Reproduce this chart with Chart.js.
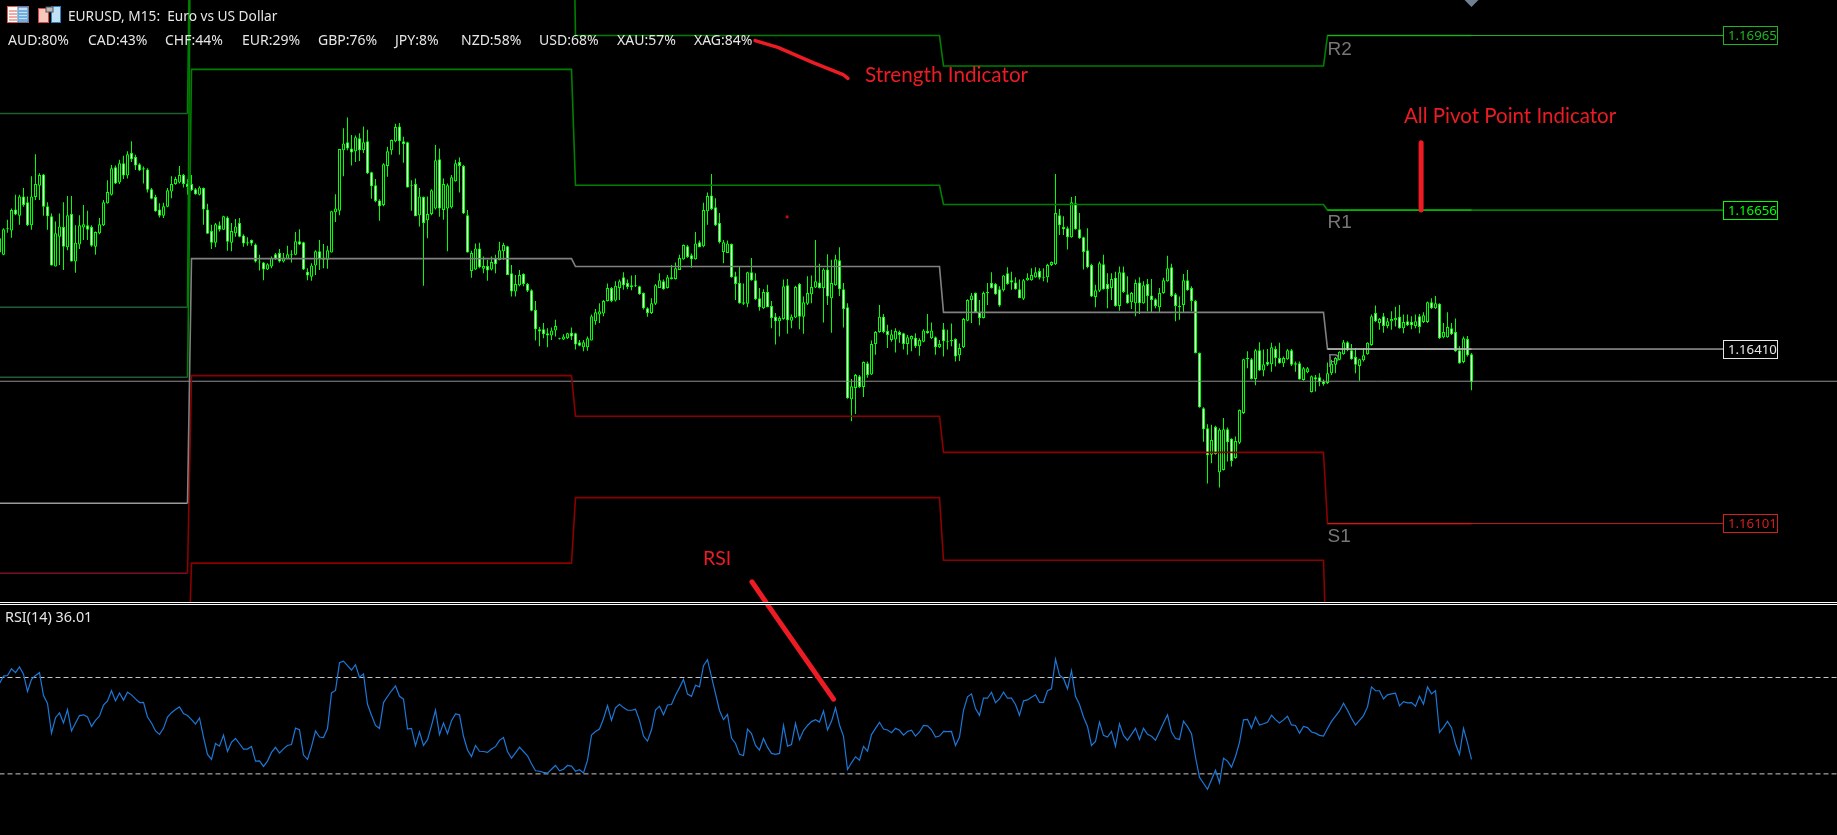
<!DOCTYPE html>
<html><head><meta charset="utf-8">
<style>
html,body{margin:0;padding:0;background:#000;width:1837px;height:835px;overflow:hidden}
canvas{position:absolute;left:0;display:block}
.sep{position:absolute;left:0;width:1837px;height:1px;background:#fff}
.t{position:absolute;white-space:pre;color:#e6e6e6;font:13.7px "Noto Sans",sans-serif;line-height:16px}
.r{position:absolute;white-space:pre;color:#ed1c24;font:20.5px Lato,sans-serif;line-height:24px}
svg{position:absolute}
</style></head><body>
<canvas id="main" width="1837" height="602" style="top:0"></canvas>
<div class="sep" style="top:602px"></div><div class="sep" style="top:604px"></div>
<canvas id="rsi" width="1837" height="230" style="top:605px"></canvas>
<svg style="left:7px;top:6px" width="22" height="17"><rect x=".5" y=".5" width="21" height="16" fill="#fff" stroke="#e05a50"/><rect x="11" y="1" width="10" height="15" fill="#bfe0f5" stroke="#2a7fc0" stroke-width="1"/><path d="M2 5h8M2 8h8M2 11h8M2 14h8" stroke="#e05a50"/><path d="M12 5h8M12 8h8M12 11h8M12 14h8" stroke="#2a7fc0"/></svg>
<svg style="left:38px;top:6px" width="23" height="17"><rect x=".5" y="2.5" width="10" height="14" fill="#f7c7bd" stroke="#d9483b"/><rect x="13.5" y=".5" width="9" height="16" fill="#bfe0f5" stroke="#2a7fc0"/><rect x="8" y="1" width="7" height="5" fill="#b8b8b8" stroke="#555"/></svg>
<script src="https://cdn.jsdelivr.net/npm/chart.js@4/dist/chart.umd.min.js"></script>
<script>
// Prices are in points (1 point = 0.00001)
const highs=[116615,116624,116639,116659,116683,116683,116695,116680,116716,116755,116721,116720,116670,116650,116636,116650,116670,116681,116681,116629,
116647,116665,116655,116629,116618,116642,116674,116709,116736,116735,116745,116752,116760,116778,116754,116739,116733,116730,116695,116683,
116668,116669,116695,116716,116715,116734,116720,116711,116718,116695,116698,116696,116667,116630,116633,116636,116646,116645,116633,116640,
116642,116613,116608,116604,116597,116577,116564,116562,116574,116580,116587,116580,116593,116585,116617,116622,116600,116553,116562,116585,
116603,116596,116593,116655,116684,116764,116801,116820,116789,116788,116792,116804,116798,116724,116711,116675,116739,116768,116781,116809,
116810,116786,116777,116709,116712,116695,116680,116680,116693,116771,116765,116712,116703,116718,116745,116749,116736,116656,116584,116597,
116598,116574,116568,116574,116577,116600,116598,116593,116559,116541,116550,116544,116527,116516,116495,116449,116456,116447,116448,116462,
116430,116436,116439,116448,116439,116426,116426,116432,116471,116481,116491,116497,116526,116520,116530,116533,116546,116533,116540,116541,
116522,116510,116484,116500,116525,116544,116533,116541,116559,116563,116577,116595,116594,116579,116617,116602,116669,116687,116720,116677,
116651,116603,116602,116597,116547,116556,116526,116547,116571,116544,116518,116516,116524,116495,116474,116468,116533,116534,116471,116522,
116527,116503,116539,116540,116603,116561,116553,116578,116568,116577,116590,116527,116491,116357,116366,116364,116388,116388,116425,116442,
116488,116472,116453,116444,116447,116443,116439,116435,116434,116438,116429,116445,116472,116457,116432,116426,116456,116444,116455,116429,
116420,116465,116498,116509,116510,116497,116512,116527,116546,116527,116521,116541,116555,116547,116537,116533,116534,116544,116553,116555,
116553,116553,116561,116565,116720,116658,116645,116627,116679,116681,116651,116609,116624,116561,116524,116565,116577,116544,116544,116547,
116556,116556,116539,116511,116533,116537,116530,116534,116534,116500,116518,116536,116575,116561,116509,116503,116543,116550,116521,116497,
116404,116307,116277,116276,116274,116270,116288,116271,116252,116255,116303,116393,116406,116394,116410,116422,116409,116410,116421,116415,
116421,116397,116410,116410,116388,116388,116378,116378,116363,116364,116367,116356,116386,116391,116396,116406,116426,116424,116419,116412,
116393,116412,116422,116471,116487,116465,116474,116465,116477,116485,116488,116471,116471,116468,116471,116472,116475,116494,116500,116504,
116491,116456,116475,116456,116464,116415,116432,116433,116403];
const lows=[116574,116576,116616,116607,116647,116630,116662,116628,116621,116674,116674,116646,116621,116558,116556,116559,116550,116585,116565,116545,
116587,116603,116603,116591,116577,116613,116628,116667,116682,116702,116702,116711,116712,116741,116727,116725,116703,116687,116675,116653,
116643,116642,116661,116677,116701,116703,116696,116683,116690,116683,116682,116630,116614,116587,116590,116618,116621,116584,116583,116609,
116608,116591,116593,116593,116563,116549,116532,116550,116553,116568,116563,116563,116569,116563,116576,116594,116550,116532,116531,116541,
116550,116553,116552,116581,116635,116647,116716,116762,116735,116741,116743,116757,116720,116676,116670,116637,116663,116715,116754,116776,
116754,116740,116696,116655,116645,116627,116522,116606,116647,116657,116644,116639,116583,116659,116706,116687,116649,116581,116536,116550,
116553,116544,116531,116549,116544,116567,116568,116541,116503,116503,116521,116521,116511,116477,116425,116415,116429,116413,116426,116432,
116427,116426,116428,116426,116409,116415,116406,116407,116425,116453,116456,116468,116494,116493,116494,116497,116515,116516,116514,116520,
116506,116480,116467,116472,116488,116518,116515,116517,116533,116533,116550,116568,116571,116554,116568,116590,116590,116630,116656,116628,
116597,116562,116580,116536,116497,116490,116488,116484,116531,116497,116478,116481,116484,116447,116418,116432,116462,116437,116447,116465,
116445,116437,116488,116491,116518,116517,116457,116488,116439,116522,116504,116448,116322,116282,116295,116341,116325,116359,116364,116400,
116439,116438,116412,116423,116404,116421,116409,116400,116406,116412,116398,116422,116437,116428,116400,116412,116397,116409,116415,116388,
116389,116412,116459,116456,116474,116452,116464,116488,116517,116506,116485,116512,116524,116515,116515,116500,116497,116531,116531,116536,
116533,116530,116528,116557,116559,116612,116612,116586,116607,116621,116605,116551,116553,116502,116484,116511,116515,116482,116497,116485,
116478,116509,116490,116481,116468,116472,116490,116477,116474,116482,116475,116508,116529,116502,116459,116462,116475,116513,116477,116402,
116306,116246,116172,116208,116223,116165,116195,116211,116202,116216,116242,116295,116376,116356,116346,116371,116362,116380,116370,116379,
116384,116378,116391,116380,116370,116356,116354,116367,116333,116335,116344,116345,116348,116364,116367,116390,116400,116406,116391,116367,
116354,116388,116400,116416,116458,116444,116439,116447,116444,116450,116446,116438,116451,116445,116447,116438,116456,116456,116481,116481,
116428,116429,116430,116435,116405,116384,116385,116397,116337];
const opens=[116606,116577,116624,116620,116657,116646,116680,116670,116629,116679,116699,116719,116663,116645,116556,116609,116626,116590,116649,116565,
116595,116625,116629,116626,116591,116615,116629,116668,116683,116732,116705,116739,116717,116757,116750,116737,116730,116728,116693,116679,
116657,116646,116662,116689,116702,116705,116718,116703,116702,116693,116683,116695,116657,116619,116598,116629,116621,116643,116598,116615,
116633,116611,116599,116603,116595,116565,116563,116551,116556,116578,116580,116565,116570,116578,116577,116601,116599,116547,116538,116558,
116583,116572,116568,116581,116652,116655,116762,116776,116765,116760,116783,116762,116778,116723,116700,116673,116665,116734,116762,116778,
116804,116778,116776,116700,116702,116647,116679,116638,116649,116659,116746,116656,116659,116661,116707,116741,116734,116647,116548,116551,
116588,116552,116557,116551,116571,116567,116583,116592,116544,116512,116523,116543,116525,116514,116479,116445,116445,116438,116434,116443,
116429,116427,116429,116439,116438,116422,116413,116413,116425,116459,116471,116473,116495,116518,116496,116518,116537,116527,116523,116523,
116521,116509,116482,116474,116490,116518,116530,116518,116534,116534,116550,116569,116592,116576,116569,116599,116592,116654,116682,116661,
116633,116582,116580,116596,116539,116527,116493,116490,116546,116532,116500,116482,116511,116486,116467,116459,116463,116523,116460,116466,
116525,116467,116490,116507,116519,116528,116518,116551,116500,116523,116567,116516,116484,116321,116341,116362,116343,116385,116365,116419,
116440,116467,116442,116426,116427,116440,116438,116419,116427,116430,116415,116423,116442,116429,116431,116413,116445,116424,116426,116428,
116399,116413,116460,116497,116509,116475,116465,116511,116527,116525,116516,116514,116544,116532,116528,116516,116499,116532,116532,116537,
116548,116538,116537,116559,116560,116647,116626,116624,116608,116668,116622,116608,116585,116559,116502,116513,116560,116525,116518,116536,
116486,116546,116507,116493,116491,116528,116491,116525,116505,116498,116484,116509,116530,116555,116507,116486,116488,116532,116518,116495,
116403,116305,116270,116223,116272,116192,116196,116268,116251,116217,116244,116297,116394,116392,116357,116408,116372,116387,116383,116410,
116394,116385,116392,116408,116385,116385,116355,116369,116334,116360,116360,116353,116350,116367,116382,116391,116401,116422,116408,116396,
116380,116390,116401,116417,116474,116456,116468,116451,116459,116461,116467,116447,116459,116458,116451,116468,116458,116458,116493,116482,
116490,116431,116431,116447,116440,116408,116387,116428,116401];
const closes=[116581,116622,116622,116656,116648,116680,116665,116629,116680,116702,116718,116662,116645,116558,116615,116627,116591,116647,116565,116598,
116629,116631,116621,116593,116617,116631,116670,116688,116730,116703,116739,116717,116755,116746,116735,116726,116728,116692,116676,116654,
116646,116663,116691,116702,116711,116718,116702,116697,116691,116684,116696,116657,116614,116598,116631,116621,116645,116600,116619,116627,
116609,116597,116597,116597,116565,116563,116551,116560,116571,116570,116565,116572,116578,116576,116601,116595,116551,116540,116558,116583,
116570,116568,116585,116654,116659,116764,116774,116765,116758,116785,116762,116776,116721,116698,116672,116663,116737,116760,116780,116803,
116778,116773,116696,116698,116645,116680,116633,116649,116691,116744,116659,116702,116700,116714,116739,116734,116650,116581,116580,116588,
116555,116557,116549,116564,116560,116585,116594,116541,116512,116525,116541,116525,116513,116478,116445,116441,116436,116434,116443,116451,
116428,116432,116438,116432,116418,116416,116422,116429,116468,116475,116477,116495,116518,116495,116522,116530,116523,116520,116520,116521,
116507,116482,116474,116491,116523,116532,116516,116537,116537,116553,116571,116594,116573,116569,116597,116590,116656,116681,116658,116629,
116599,116599,116597,116537,116525,116491,116490,116546,116532,116498,116484,116511,116484,116465,116459,116465,116521,116461,116467,116520,
116467,116493,116509,116520,116530,116518,116551,116503,116527,116569,116516,116481,116323,116344,116364,116343,116387,116364,116419,116440,
116467,116440,116435,116436,116442,116435,116419,116431,116433,116415,116426,116443,116438,116443,116413,116419,116424,116422,116424,116397,
116412,116463,116497,116505,116475,116465,116509,116509,116518,116507,116487,116540,116525,116528,116516,116500,116532,116536,116541,116546,
116536,116536,116559,116564,116651,116629,116622,116608,116670,116622,116606,116582,116555,116503,116514,116562,116516,116516,116534,116486,
116546,116511,116491,116509,116527,116491,116523,116504,116497,116486,116509,116532,116553,116504,116486,116484,116532,116514,116495,116403,
116307,116268,116222,116249,116224,116267,116268,116245,116212,116247,116302,116392,116392,116357,116408,116372,116383,116382,116413,116394,
116385,116394,116408,116382,116382,116356,116376,116376,116362,116356,116351,116348,116367,116384,116394,116405,116422,116408,116392,116382,
116392,116399,116421,116468,116459,116463,116451,116459,116463,116465,116447,116458,116452,116452,116459,116449,116470,116493,116482,116491,
116429,116440,116449,116436,116406,116385,116429,116399,116351];
const rsiValues=[67.5,70.6,70.8,73.6,72.0,74.4,71.4,64.2,69.2,70.8,72.0,62.5,59.2,46.9,53.3,55.3,51.1,56.7,47.8,51.1,
54.2,54.5,53.6,49.7,52.2,54.0,58.6,60.3,64.5,60.3,63.6,60.6,63.9,62.8,61.1,59.6,59.7,53.6,51.1,47.8,
46.4,48.9,53.6,55.4,56.7,57.8,55.0,54.2,52.5,50.7,53.2,45.3,38.1,36.0,42.6,41.5,46.1,39.3,43.1,44.7,
42.5,40.3,40.3,41.4,35.3,35.4,33.1,35.3,38.9,41.0,38.6,40.4,41.8,42.2,49.0,48.3,37.8,36.0,41.3,47.8,
45.3,45.1,48.8,63.6,64.6,76.1,76.8,74.9,73.1,75.3,70.0,71.5,58.9,54.3,50.1,48.9,59.6,62.1,64.5,66.5,
62.2,61.0,48.6,48.9,41.7,47.4,41.8,44.2,50.0,56.4,46.3,51.1,46.7,52.1,54.9,54.5,45.6,39.9,37.2,41.8,
39.4,39.3,38.9,40.3,41.3,43.9,45.1,39.3,36.5,38.7,41.1,39.3,37.5,34.2,31.3,31.1,30.6,30.3,31.9,33.5,
31.3,31.9,33.5,33.2,31.1,31.7,30.4,35.6,46.1,47.6,48.6,52.9,58.3,52.2,57.4,58.9,57.5,56.4,56.4,56.8,
52.2,45.7,43.6,48.3,56.5,58.1,54.5,58.6,58.8,62.6,65.8,69.2,63.1,62.2,66.8,66.1,74.9,77.4,70.3,63.3,
56.3,52.5,54.7,44.9,42.6,38.1,37.6,48.6,46.7,41.8,39.9,44.7,41.1,38.5,38.1,38.5,50.1,41.5,42.2,51.0,
44.2,48.0,50.1,51.7,52.5,51.5,56.1,48.3,51.8,57.4,50.3,45.6,31.8,34.6,37.1,35.7,41.4,39.4,46.3,48.9,
51.4,48.6,48.2,47.1,48.9,48.1,46.1,47.6,48.1,45.7,47.4,50.1,49.9,48.3,45.3,45.7,47.6,47.5,47.6,41.8,
45.3,56.4,62.0,63.2,57.1,54.3,61.4,61.4,63.9,59.5,61.1,63.9,61.4,61.4,58.8,54.3,60.3,60.7,61.8,62.8,
59.7,59.7,64.5,65.3,77.6,71.0,69.6,65.3,72.8,62.2,58.8,53.6,49.7,41.8,43.5,51.5,46.0,45.3,47.6,41.5,
50.8,46.0,44.0,46.4,48.9,44.3,48.9,46.4,45.6,44.0,47.5,51.1,54.5,47.4,44.7,44.3,51.9,49.6,46.7,36.9,
28.6,26.1,23.6,27.6,31.5,26.3,36.5,35.3,32.8,37.2,43.1,52.4,52.6,49.0,53.6,50.3,50.8,51.4,54.3,52.5,
51.1,52.4,53.9,50.3,50.1,46.9,49.7,49.2,47.4,46.9,46.0,45.7,48.8,51.8,54.0,56.1,59.3,56.4,53.1,50.3,
52.2,54.2,57.8,66.1,64.5,64.5,61.1,62.8,63.2,63.5,58.2,60.0,59.5,59.6,58.1,62.2,58.9,66.1,63.2,64.5,
47.2,49.3,51.8,49.2,42.5,38.1,48.9,42.9,36.01];
// Pivot levels per trading day (points); values beyond the visible range run off the pane
const dayStarts=[0,48,144,236,332];
const dayEnds=[47,143,235,331,368];
const r3Levels=[116827,117400];
const r2Levels=[116484,117400,116965,116911,116965];
const r1Levels=[116360,116905,116700,116666,116656];
const ppLevels=[116137,116570,116556,116475,116410];
const s1Levels=[116013,116363,116291,116227,116101];
const s2Levels=[115800,116031,116147,116036,115800];
const bidPoints=116353;
const rsiUpper=70, rsiLower=30;
const strengthLabels=["AUD:80%","CAD:43%","CHF:44%","EUR:29%","GBP:76%","JPY:8%","NZD:58%","USD:68%","XAU:57%","XAG:84%"];
// Hand-drawn callouts, in chart units [bar, points]
const strengthCallout=[[188.9,116956],[194.6,116944],[203.4,116917],[210.9,116896],[212.1,116889]];
const pivotCallout=[[355.4,116775],[355.4,116656]];
const rsiCalloutTop=[[188.1,115998],[191.6,115962]];
const rsiCalloutBottom=[[192.1,100],[208.5,61]];
const strayDot=[196.9,116644];
const marker=[368,117028];

const px=v=>v/1e5;
const xScale={type:'linear',display:false,min:0.125,max:459.375,offset:false,grid:{display:false}};
function stepLine(levels,color,dim){
  const pts=[];
  levels.forEach((v,d)=>{pts.push({x:dayStarts[d],y:px(v)});pts.push({x:dayEnds[d],y:px(v)});});
  return {type:'line',data:pts,borderColor:color,borderWidth:1.6,pointRadius:0,tension:0,order:5,
    segment:{borderColor:c=>c.p0.parsed.x<47?dim:color,borderWidth:c=>c.p0.parsed.x<47?1.4:1.6}};
}
function flat(v,from,to,color,w,order){
  return {type:'line',data:[{x:from,y:px(v)},{x:to,y:px(v)}],borderColor:color,borderWidth:w,pointRadius:0,order:order};
}
function callout(pts,scale,w){
  return {type:'line',data:pts.map(p=>({x:p[0],y:scale(p[1])})),borderColor:'#ed1c24',borderWidth:w,pointRadius:0,tension:0,
    borderCapStyle:'round',borderJoinStyle:'round',order:1};
}
const wicks={data:highs.map((h,i)=>({x:i,y:[px(lows[i]),px(h)]})),backgroundColor:'#00ff00',borderWidth:0,barThickness:1,inflateAmount:0,grouped:false,order:10};
const bodies={data:opens.map((o,i)=>{const a=Math.max(o,closes[i]),b=Math.min(o,closes[i]);return {x:i,y:[px(b),px(a)]};}),
  backgroundColor:opens.map((o,i)=>o>closes[i]?'#ffffff':'#000000'),borderColor:'#00ff00',borderWidth:1,borderSkipped:false,barThickness:3,inflateAmount:0,grouped:false,order:9};

const objX=430.9;
const boxes=[[116965,'#1fb51f'],[116656,'#00ff00'],[116410,'#e6e6e6'],[116101,'#d02020']];

const annotate={id:'annotate',
  beforeDatasetsDraw(c){
    const g=c.ctx,x=c.scales.x,y=c.scales.y;g.save();
    g.fillStyle='#777';g.font='19px "Liberation Sans"';g.textBaseline='alphabetic';
    const X=x.getPixelForValue(332);
    g.fillText('R2',X,y.getPixelForValue(px(116965))+19);
    g.fillText('R1',X,y.getPixelForValue(px(116656))+18);
    g.fillText('P',X,y.getPixelForValue(px(116410))+18);
    g.fillText('S1',X,y.getPixelForValue(px(116101))+18);
    g.restore();
  },
  afterDatasetsDraw(c){
    const g=c.ctx,x=c.scales.x,y=c.scales.y;g.save();
    boxes.forEach(b=>{
      const Y=Math.floor(y.getPixelForValue(px(b[0])));const L=Math.round(x.getPixelForValue(objX));
      g.fillStyle='#000';g.fillRect(L,Y-9,55,18);
      g.strokeStyle=b[1];g.lineWidth=1;g.strokeRect(L+.5,Y-8.5,54,18);
      g.fillStyle=b[1];g.font='13.2px "Noto Sans"';g.textBaseline='middle';
      g.fillText((b[0]/1e5).toFixed(5),L+5,Y+1);
    });
    g.restore();
  }};

new Chart(document.getElementById('main'),{type:'bar',
  data:{datasets:[wicks,bodies,
    stepLine(r3Levels.concat(),'#008000','#1f5e33'),
    stepLine(r2Levels,'#008000','#1f5e33'),
    stepLine(r1Levels,'#008000','#1f5e33'),
    stepLine(ppLevels,'#808080','#9a9a9a'),
    stepLine(s1Levels,'#8b0000','#7a1020'),
    stepLine(s2Levels,'#8b0000','#7a1020'),
    flat(bidPoints,0,459.375,'#8f8f8f',1,6),
    flat(116965,332,objX,'#1fb51f',1,4),
    flat(116656,332,objX,'#00dd00',1,4),
    flat(116410,332,objX,'#e0e0e0',1,4),
    flat(116101,332,objX,'#c02020',1,4),
    callout(strengthCallout,px,3.5),callout(pivotCallout,px,5),callout(rsiCalloutTop,px,5),
    {type:'scatter',data:[{x:strayDot[0],y:px(strayDot[1])}],pointStyle:'rect',pointRadius:2,backgroundColor:'#c01010',borderWidth:0,order:2},
    {type:'scatter',data:[{x:marker[0],y:px(marker[1])}],pointStyle:'rectRot',pointRadius:7,backgroundColor:'#708090',borderWidth:0,order:2}
  ]},
  options:{responsive:false,animation:false,devicePixelRatio:1,layout:{padding:0,autoPadding:false},
    plugins:{legend:{display:false},tooltip:{enabled:false}},
    scales:{x:xScale,y:{display:false,min:px(115962.2),max:px(117027.9),grid:{display:false}}}},
  plugins:[annotate]});

new Chart(document.getElementById('rsi'),{type:'line',
  data:{datasets:[
    {data:rsiValues.map((v,i)=>({x:i,y:v})),borderColor:'#1c78d8',borderWidth:1.2,pointRadius:0,tension:0,order:3},
    {data:[{x:0,y:rsiUpper},{x:459.375,y:rsiUpper}],borderColor:'#c8c8c8',borderWidth:1,borderDash:[5,3],pointRadius:0,order:4},
    {data:[{x:0,y:rsiLower},{x:459.375,y:rsiLower}],borderColor:'#c8c8c8',borderWidth:1,borderDash:[5,3],pointRadius:0,order:4},
    callout(rsiCalloutBottom,v=>v,5)
  ]},
  options:{responsive:false,animation:false,devicePixelRatio:1,layout:{padding:0,autoPadding:false},
    plugins:{legend:{display:false},tooltip:{enabled:false}},
    scales:{x:xScale,y:{display:false,min:4.64,max:100.08,grid:{display:false}}}}});

// Header and annotation text
function addText(cls,txt,left,top,size){const d=document.createElement('div');d.className=cls;d.textContent=txt;d.style.left=left+'px';d.style.top=top+'px';if(size)d.style.fontSize=size+'px';document.body.appendChild(d);}
addText('t','EURUSD, M15:  Euro vs US Dollar',68,8);
const strengthX=[8,88,165,242,318,395,461,539,617,694];
strengthLabels.forEach((s,i)=>addText('t',s,strengthX[i],32,14));
addText('t','RSI(14) 36.01',5,609,14.4);
addText('r','Strength Indicator',865,62,20.7);
addText('r','All Pivot Point Indicator',1404,103);
addText('r','RSI',703,546,19.5);
</script>
</body></html>
